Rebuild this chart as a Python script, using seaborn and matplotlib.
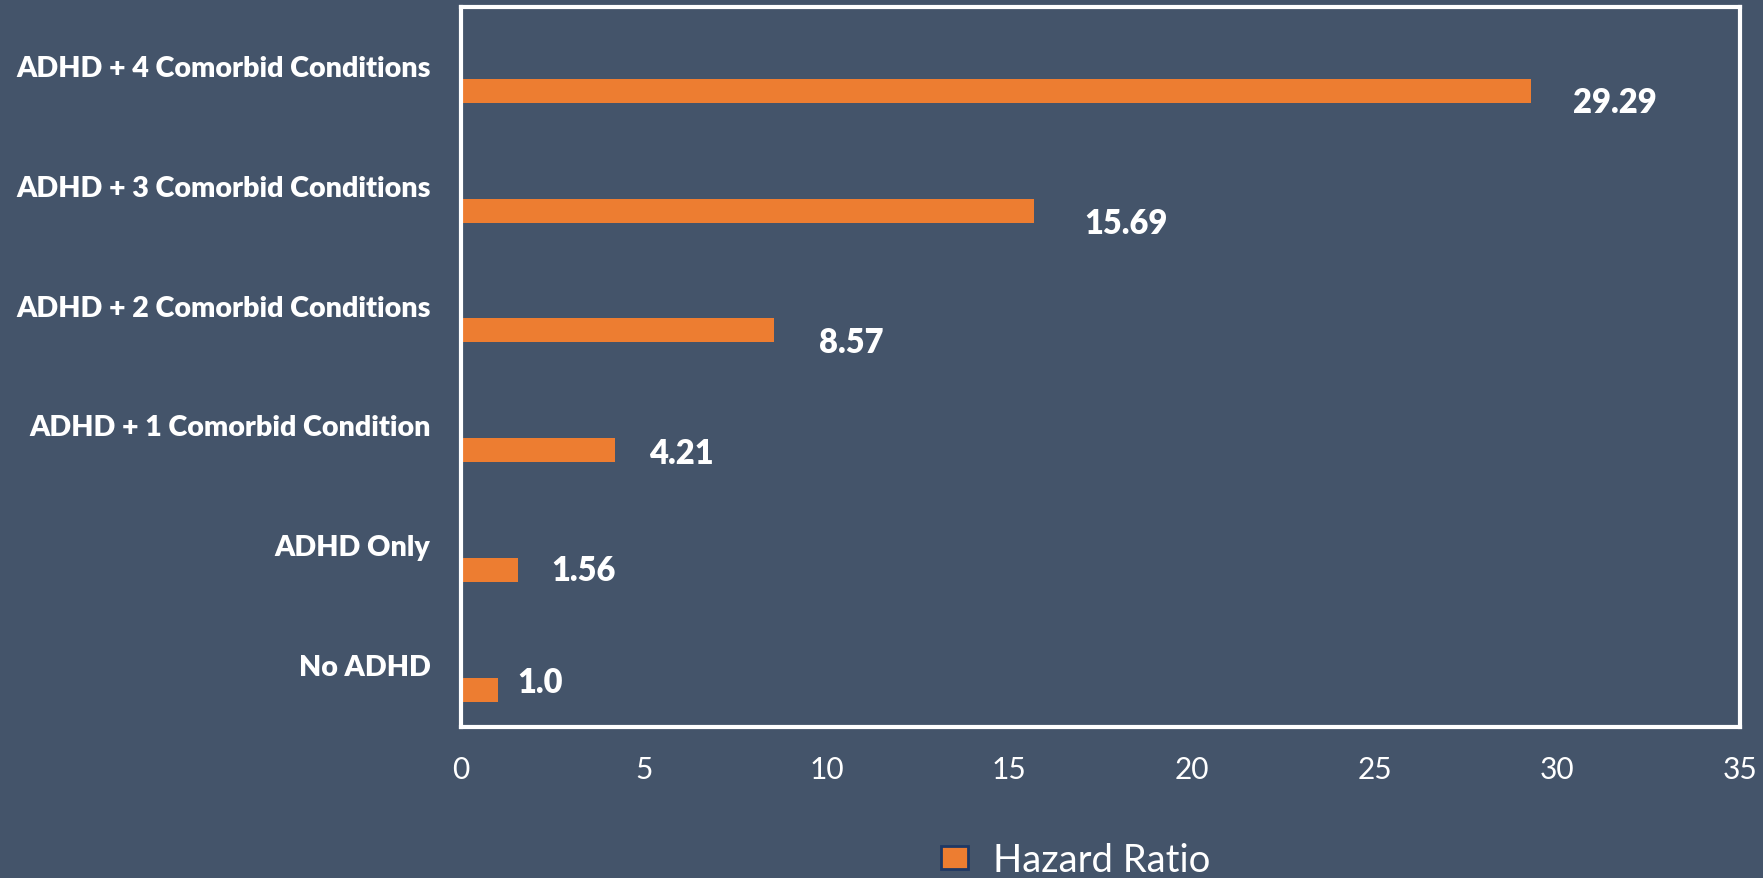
import numpy as np
import pandas as pd
import matplotlib
matplotlib.use("Agg")
import matplotlib.pyplot as plt
import seaborn as sns

# Data: hazard ratio by ADHD comorbidity group
categories = [
    "No ADHD",
    "ADHD Only",
    "ADHD + 1 Comorbid Condition",
    "ADHD + 2 Comorbid Conditions",
    "ADHD + 3 Comorbid Conditions",
    "ADHD + 4 Comorbid Conditions",
]
hazard_ratio = [1.0, 1.56, 4.21, 8.57, 15.69, 29.29]
series_name = "Hazard Ratio"
x_ticks = [0, 5, 10, 15, 20, 25, 30, 35]

# Style
BG = "#44546A"
ORANGE = "#ED7D31"
HANDLE_EDGE = "#1F3864"
WHITE = "white"

df = pd.DataFrame({"category": categories, "value": hazard_ratio, "series": series_name})
order = categories[::-1]  # largest group drawn at the top

sns.set_theme(style="white")
plt.rcParams["font.family"] = ["Lato", "DejaVu Sans"]

fig = plt.figure(figsize=(17.63, 8.79), dpi=100, facecolor=BG)
ax = fig.add_axes([0.2615, 0.172, 0.7255, 0.819])
ax.set_facecolor(BG)

sns.barplot(
    data=df, x="value", y="category", hue="series", order=order,
    palette=[ORANGE], width=0.2, saturation=1, edgecolor="none",
    linewidth=0, ax=ax,
)

ax.set_xlim(0, 35)
ax.set_ylim(5.31, -0.70)
ax.set_xticks(x_ticks)
ax.set_yticks(np.arange(len(order)) - 0.21, order)
ax.set_xlabel("")
ax.set_ylabel("")

ax.tick_params(axis="x", length=0, pad=20, labelsize=21.5, labelcolor=WHITE)
ax.tick_params(axis="y", length=0, pad=22, labelsize=20.6, labelcolor=WHITE)
for lbl in ax.get_yticklabels():
    lbl.set_fontweight("heavy")

for s in ax.spines.values():
    s.set_visible(True)
    s.set_color(WHITE)
    s.set_linewidth(3)

# Value labels beside each bar (pixel nudges, top to bottom)
label_dx = [42, 50, 45, 34, 33, 20]
label_dy = [11, 12, 12, 3, 0, -8]
value_by_cat = dict(zip(categories, hazard_ratio))
for i, cat in enumerate(order):
    v = value_by_cat[cat]
    ax.annotate(
        f"{v}", xy=(v, i), xytext=(label_dx[i], -label_dy[i]),
        textcoords="offset pixels", ha="left", va="center",
        fontsize=23.5, fontweight="heavy", color=WHITE,
    )

handles, labels = ax.get_legend_handles_labels()
if ax.get_legend() is not None:
    ax.get_legend().remove()
leg = fig.legend(
    handles, labels, loc="center", bbox_to_anchor=(0.61, 0.021),
    frameon=False, fontsize=27.5, labelcolor=WHITE,
    handlelength=0.71, handleheight=0.55, handletextpad=0.65,
)
for h in leg.legend_handles:
    h.set_edgecolor(HANDLE_EDGE)
    h.set_linewidth(2)

fig.savefig("out.png", dpi=100, facecolor=BG)
